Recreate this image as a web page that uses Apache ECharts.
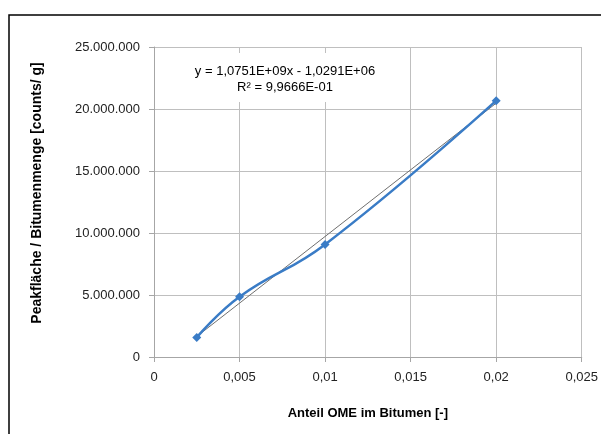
<!DOCTYPE html>
<html>
<head>
<meta charset="utf-8">
<script src="https://cdn.jsdelivr.net/npm/echarts@6/dist/echarts.min.js"></script>
<style>
html,body{margin:0;padding:0;background:#fff;}
#c{width:601px;height:434px;}
</style>
</head>
<body>
<div id="c"></div>
<script>
// Data
const xValues = [0.0025, 0.005, 0.01, 0.02];
const yValues = [1580000, 4860000, 9080000, 20670000];
const xTicks = [0, 0.005, 0.01, 0.015, 0.02, 0.025];
const yTicks = [0, 5000000, 10000000, 15000000, 20000000, 25000000];
const equationText = 'y = 1,0751E+09x - 1,0291E+06';
const r2Text = 'R² = 9,9666E-01';
const xTitle = 'Anteil OME im Bitumen [-]';
const yTitle = 'Peakfläche / Bitumenmenge [counts/ g]';

// linear regression for the trendline
const n = xValues.length;
const mx = xValues.reduce((a, b) => a + b, 0) / n;
const my = yValues.reduce((a, b) => a + b, 0) / n;
let sxy = 0, sxx = 0;
for (let i = 0; i < n; i++) { sxy += (xValues[i] - mx) * (yValues[i] - my); sxx += (xValues[i] - mx) ** 2; }
const slope = sxy / sxx, intercept = my - slope * mx;
const xMin = Math.min(...xValues), xMax = Math.max(...xValues);
const trend = [[xMin, slope * xMin + intercept], [xMax, slope * xMax + intercept]];

function fmtY(v) { return String(Math.round(v)).replace(/\B(?=(\d{3})+(?!\d))/g, '.'); }
function fmtX(v) { return String(Number(v.toFixed(4))).replace('.', ','); }

const chart = echarts.init(document.getElementById('c'), null, {renderer: 'canvas'});
const font = '"Liberation Sans", Arial, sans-serif';
chart.setOption({
  animation: false,
  backgroundColor: '#fff',
  textStyle: {fontFamily: font},
  grid: {left: 154, right: 11, top: 47, bottom: 77, containLabel: false},
  xAxis: {
    type: 'value', min: xTicks[0], max: xTicks[xTicks.length - 1], interval: xTicks[1] - xTicks[0],
    name: xTitle, nameLocation: 'middle', nameGap: 50,
    nameTextStyle: {fontFamily: font, fontSize: 13, fontWeight: 'bold', color: '#000'},
    axisLine: {show: true, onZero: false, lineStyle: {color: '#a6a6a6', width: 1}},
    axisTick: {show: true, inside: false, length: 5, lineStyle: {color: '#a6a6a6'}},
    axisLabel: {formatter: fmtX, color: '#222', fontSize: 13, fontFamily: font, margin: 14, showMaxLabel: true},
    splitLine: {show: true, lineStyle: {color: '#bfbfbf', width: 1}}
  },
  yAxis: {
    type: 'value', min: yTicks[0], max: yTicks[yTicks.length - 1], interval: yTicks[1] - yTicks[0],
    axisLine: {show: true, lineStyle: {color: '#a6a6a6', width: 1}},
    axisTick: {show: true, inside: false, length: 5, lineStyle: {color: '#a6a6a6'}},
    axisLabel: {formatter: fmtY, color: '#222', fontSize: 13, fontFamily: font, margin: 14},
    splitLine: {show: true, lineStyle: {color: '#bfbfbf', width: 1}}
  },
  series: [
    {
      type: 'line', data: trend, symbol: 'none', silent: true,
      lineStyle: {color: '#6f6f6f', width: 1}, z: 3
    },
    {
      type: 'line', data: xValues.map((x, i) => [x, yValues[i]]), smooth: 0.45,
      symbol: 'diamond', symbolSize: 9, showSymbol: true,
      itemStyle: {color: '#3a7cc6'},
      lineStyle: {color: '#3a7cc6', width: 2.5}, z: 4
    }
  ],
  graphic: [
    {type: 'rect', shape: {x: 9, y: 15, width: 800, height: 600}, style: {fill: null, stroke: '#000', lineWidth: 1.5}, z: 100},
    {type: 'text', x: 285, y: 53, z: 50,
      style: {text: equationText + '\n' + r2Text, align: 'center', verticalAlign: 'top', fontFamily: font, fontSize: 13, fill: '#000',
        lineHeight: 16, backgroundColor: '#fff', padding: [10, 7, 7, 7]}},
    {type: 'text', x: 37, y: 193, rotation: Math.PI / 2, z: 50,
      style: {text: yTitle, align: 'center', verticalAlign: 'middle', fontFamily: font, fontSize: 14, fontWeight: 'bold', fill: '#000'}}
  ]
});
</script>
</body>
</html>
